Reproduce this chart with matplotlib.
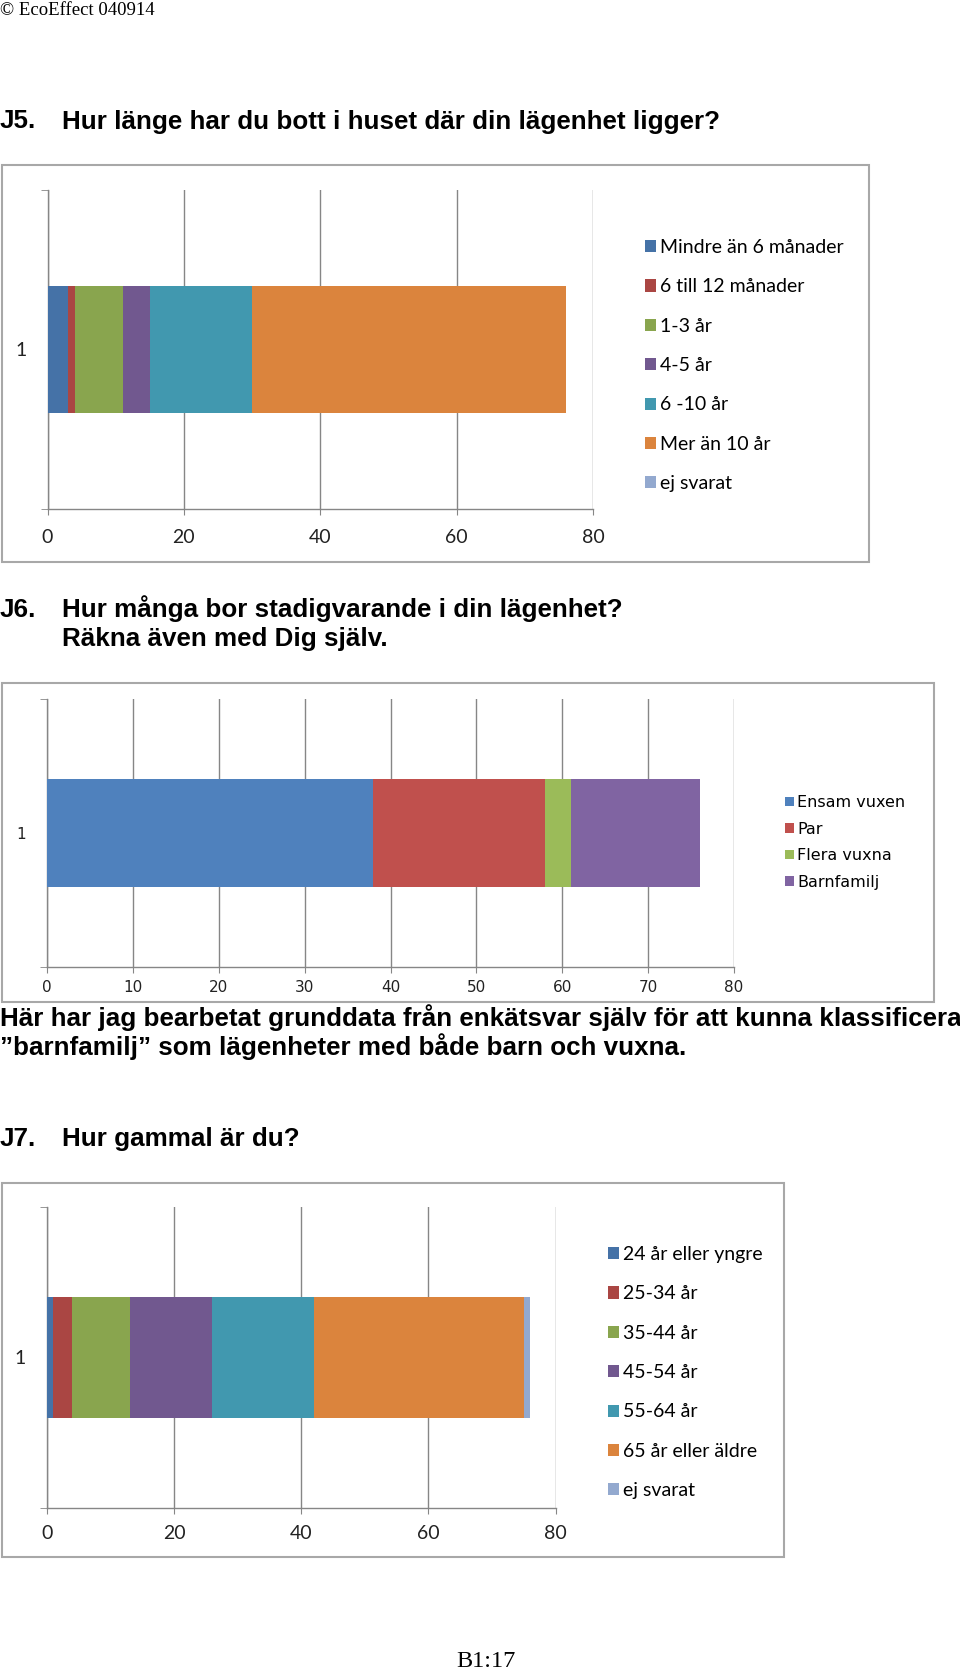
import matplotlib
matplotlib.use('Agg')
import matplotlib.pyplot as plt
from matplotlib.patches import Rectangle

W, H = 960, 1670

# J5: Hur länge har du bott i huset
j5_labels = ['Mindre än 6 månader', '6 till 12 månader', '1-3 år', '4-5 år',
             '6 -10 år', 'Mer än 10 år', 'ej svarat']
j5_values = [3, 1, 7, 4, 15, 46, 0]

# J6: antal boende
j6_labels = ['Ensam vuxen', 'Par', 'Flera vuxna', 'Barnfamilj']
j6_values = [38, 20, 3, 15]

# J7: ålder
j7_labels = ['24 år eller yngre', '25-34 år', '35-44 år', '45-54 år',
             '55-64 år', '65 år eller äldre', 'ej svarat']
j7_values = [1, 3, 9, 13, 16, 33, 1]

col7 = ['#4572A7', '#AA4643', '#89A54E', '#71588F', '#4198AF', '#DB843D', '#93A9CF']
col4 = ['#4F81BD', '#C0504D', '#9BBB59', '#8064A2']

fig = plt.figure(figsize=(W / 100, H / 100), dpi=100)


def frect(x0, y0, x1, y1):
    # pixel box (top-left origin) -> figure coords
    return [x0 / W, 1 - y1 / H, (x1 - x0) / W, (y1 - y0) / H]


def box(x0, y0, x1, y1):
    fig.add_artist(Rectangle((x0 / W, 1 - y1 / H), (x1 - x0) / W, (y1 - y0) / H,
                             transform=fig.transFigure, fill=False,
                             edgecolor='#A8A8A8', linewidth=1.5))


def txt(x, y, s, **kw):
    fig.text(x / W, 1 - y / H, s, va='baseline', ha='left', **kw)


def chart(rect, labels, values, colors, xmax, step, family, fs, xpad, ypad,
          leg_x, leg_top, leg_fs, leg_space, hsize):
    ax = fig.add_axes(frect(*rect))
    left = 0
    for lab, v, c in zip(labels, values, colors):
        ax.barh(1, v, left=left, height=0.4, color=c, label=lab, zorder=3)
        left += v
    ax.set_xlim(0, xmax)
    ax.set_ylim(0.5, 1.5)
    ax.set_xticks(range(0, xmax + 1, step))
    ax.set_yticks([1])
    ax.set_yticks([0.5, 1.5], minor=True)
    ax.grid(axis='x', color='#868686', linewidth=1, zorder=0)
    for s in ['top', 'right']:
        ax.spines[s].set_visible(False)
    for s in ['left', 'bottom']:
        ax.spines[s].set_color('#868686')
        ax.spines[s].set_linewidth(1)
    ax.tick_params(axis='x', length=4.5, color='#868686', pad=xpad,
                   labelsize=fs, labelcolor='#222222')
    ax.tick_params(axis='y', which='major', length=0, pad=ypad,
                   labelsize=fs, labelcolor='#222222')
    ax.tick_params(axis='y', which='minor', length=5, color='#868686')
    for t in ax.get_xticklabels() + ax.get_yticklabels():
        t.set_fontfamily(family)
    ax.legend(loc='upper left', bbox_to_anchor=(leg_x / W, 1 - leg_top / H),
              bbox_transform=fig.transFigure, frameon=False, borderpad=0,
              borderaxespad=0, handlelength=hsize, handleheight=hsize,
              handletextpad=0.2, labelspacing=leg_space,
              prop={'family': family, 'size': leg_fs})
    return ax


# sidhuvud
txt(0, 15, '© EcoEffect 040914', fontfamily='Liberation Serif', fontsize=13.5)

hfont = dict(fontfamily='Liberation Sans', fontweight='bold', fontsize=18.7)

txt(0, 128.5, 'J5.', **hfont)
txt(62, 128.5, 'Hur länge har du bott i huset där din lägenhet ligger?', **hfont)
box(2, 165, 869, 562)
chart((47.5, 190, 593, 509), j5_labels, j5_values, col7, 80, 20, 'Lato', 14,
      10, 15, 645, 239, 14, 1.15, 0.58)

txt(0, 617, 'J6.', **hfont)
txt(62, 617, 'Hur många bor stadigvarande i din lägenhet?', **hfont)
txt(62, 646, 'Räkna även med Dig själv.', **hfont)
box(2, 683, 934, 1002)
chart((47, 699, 734, 967), j6_labels, j6_values, col4, 80, 10, 'DejaVu Sans', 11,
      5, 15, 785, 795, 11.5, 0.72, 0.55)

txt(0, 1026, 'Här har jag bearbetat grunddata från enkätsvar själv för att kunna klassificera',
    **hfont)
txt(0, 1055, '”barnfamilj” som lägenheter med både barn och vuxna.', **hfont)

txt(0, 1146, 'J7.', **hfont)
txt(62, 1146, 'Hur gammal är du?', **hfont)
box(2, 1183, 784, 1557)
chart((47, 1207, 555.5, 1508), j7_labels, j7_values, col7, 80, 20, 'Lato', 14,
      8, 15, 608, 1246, 14, 1.15, 0.58)

txt(456, 1667, 'B1:17', fontfamily='Liberation Serif', fontsize=17.5)

fig.savefig('out.png', dpi=100)
